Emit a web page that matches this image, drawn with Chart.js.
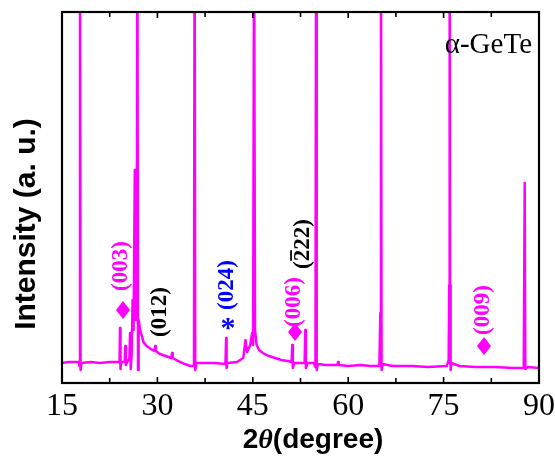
<!DOCTYPE html>
<html><head><meta charset="utf-8">
<script src="https://cdn.jsdelivr.net/npm/chart.js@4"></script>
<style>html,body{margin:0;padding:0;background:#fff}</style>
</head><body>
<canvas id="c" width="555" height="458"></canvas>
<script>
// XRD trace (2θ in degrees, intensity in arbitrary units)
const twoTheta = [
  15.0, 16.0, 17.0, 17.65, 17.75, 17.83, 17.92, 18.05, 19.5, 21.0, 22.5, 23.9,
  24.05, 24.12, 24.2, 24.3, 24.85, 24.95, 25.05, 25.25, 25.45, 25.6, 25.7, 25.8,
  25.95, 26.1, 26.25, 26.45, 26.6, 26.75, 26.85, 26.95, 27.05, 27.3, 27.8, 28.3,
  29.0, 29.6, 29.65, 29.75, 30.4, 31.3, 32.2, 32.3, 32.4, 33.3, 34.3, 35.2,
  35.75, 35.85, 35.95, 36.1, 37.5, 39.0, 40.7, 40.8, 40.88, 41.0, 42.5, 43.5,
  43.85, 44.1, 44.6, 44.9, 45.05, 45.2, 45.35, 45.6, 46.0, 46.6, 47.5, 48.5,
  49.5, 50.5, 51.1, 51.2, 51.3, 51.5, 52.5, 53.15, 53.25, 53.35, 53.6, 54.6,
  54.85, 54.95, 55.05, 55.2, 56.5, 58.3, 58.4, 58.5, 60.0, 62.0, 63.5, 64.9,
  65.05, 65.15, 65.25, 65.4, 67.0, 70.0, 72.5, 75.5, 75.8, 75.88, 75.95, 76.02,
  76.1, 76.2, 77.5, 80.0, 83.0, 86.0, 87.6, 87.75, 87.85, 88.2, 90.0
];
const intensity = [
  191, 222, 222, 222, 99, 14000, -25, 191, 222, 191, 222, 222,
  222, 1271, 6, 222, 222, 716, 130, 222, 284, 346, 1117, 6,
  438, 2136, 1210, 6147, 1521, 1521, 14000, -25, 1521, 1210, 839, 716,
  623, 562, 716, 562, 469, 407, 346, 500, 346, 253, 160, 99,
  99, 14000, -25, 191, 191, 191, 160, 963, 37, 191, 222, 346,
  901, 531, 747, 1117, 747, 14000, 1210, 747, 593, 500, 407, 346,
  284, 253, 222, 747, 37, 191, 191, 191, 1210, 37, 191, 191,
  68, 14000, -25, 160, 130, 130, 222, 130, 99, 130, 99, 99,
  1734, 14000, -25, 160, 99, 99, 68, 99, 284, 2592, 14000, 2592,
  -25, 191, 99, 68, 68, 37, 37, 5746, 6, 68, 37
];
const xTickStep = 7.5;       // major ticks every 15°, minor every 7.5°
const xTickLabels = ['15', '30', '45', '60', '75', '90'];
const yTickStep = 500;

// Peak annotations
const annText  = ['(003)', '(012)', '(024)', '(006)', '(222)', '(009)'];
const annX     = [24.28, 30.41, 40.94, 51.48, 52.9, 81.2];
const annY     = [3185, 1765, 2598, 2074, 3864, 1827];
const annColor = ['#ff00ff', '#000000', '#0000ff', '#ff00ff', '#000000', '#ff00ff'];
const diamondX = [24.59, 51.64, 81.35];
const diamondY = [1827, 1148, 716];
const starX = [41.1];
const starY = [1426];
const phaseLabel = 'α-GeTe';

const decor = {
  id: 'decor',
  afterDraw(chart) {
    const ctx = chart.ctx, a = chart.chartArea;
    const xs = chart.scales.x, ys = chart.scales.y;
    ctx.save();
    // frame
    ctx.strokeStyle = '#000'; ctx.lineWidth = 2.2;
    ctx.strokeRect(a.left, a.top, a.right - a.left, a.bottom - a.top);
    // x ticks (inward, bottom & top)
    ctx.lineWidth = 1.6;
    xs.ticks.forEach(t => {
      const px = xs.getPixelForValue(t.value);
      const major = Math.abs(t.value % 15) < 1e-6;
      const len = major ? 6 : 5;
      ctx.beginPath();
      ctx.moveTo(px, a.bottom); ctx.lineTo(px, a.bottom - len);
      ctx.moveTo(px, a.top); ctx.lineTo(px, a.top + len);
      ctx.stroke();
    });
    // y ticks (inward, left & right)
    ys.ticks.forEach(t => {
      if (Math.abs(t.value % yTickStep) > 1e-6) return;
      const py = ys.getPixelForValue(t.value);
      ctx.beginPath();
      ctx.moveTo(a.left, py); ctx.lineTo(a.left + 3, py);
      ctx.moveTo(a.right, py); ctx.lineTo(a.right - 3, py);
      ctx.stroke();
    });
    // rotated peak labels
    ctx.font = 'bold 23px "Liberation Serif"';
    annText.forEach((t, i) => {
      const px = xs.getPixelForValue(annX[i]), py = ys.getPixelForValue(annY[i]);
      ctx.save();
      ctx.translate(px, py); ctx.rotate(-Math.PI / 2);
      ctx.fillStyle = annColor[i];
      ctx.textAlign = 'center'; ctx.textBaseline = 'middle';
      ctx.fillText(t, 0, 0);
      if (t === '(222)') { // bar over the first 2
        const W = ctx.measureText(t).width;
        const x0 = -W / 2 + ctx.measureText('(').width;
        const w2 = ctx.measureText('2').width;
        ctx.strokeStyle = annColor[i]; ctx.lineWidth = 1.8;
        ctx.beginPath(); ctx.moveTo(x0 + 0.5, -12); ctx.lineTo(x0 + w2 - 0.5, -12); ctx.stroke();
      }
      ctx.restore();
    });
    // diamonds
    ctx.fillStyle = '#ff00ff';
    diamondX.forEach((dx, i) => {
      const px = xs.getPixelForValue(dx), py = ys.getPixelForValue(diamondY[i]);
      ctx.beginPath();
      ctx.moveTo(px, py - 9); ctx.lineTo(px + 7, py); ctx.lineTo(px, py + 9); ctx.lineTo(px - 7, py);
      ctx.closePath(); ctx.fill();
    });
    // star
    ctx.fillStyle = '#0000ff';
    ctx.font = 'bold 30px "Liberation Serif"';
    ctx.textAlign = 'center'; ctx.textBaseline = 'alphabetic';
    starX.forEach((sx, i) => {
      const px = xs.getPixelForValue(sx), py = ys.getPixelForValue(starY[i]);
      ctx.fillText('*', px, py + 14);
    });
    // phase label
    ctx.fillStyle = '#000';
    ctx.font = '29px "Liberation Serif"';
    ctx.textAlign = 'right'; ctx.textBaseline = 'alphabetic';
    ctx.fillText(phaseLabel, a.right - 7, 53);
    // x axis title: 2θ(degree)
    const parts = [
      ['2', 'bold 28px "Liberation Sans"'],
      ['θ', 'bold italic 28px "Liberation Serif"'],
      ['(degree)', 'bold 28px "Liberation Sans"']
    ];
    let total = 0;
    parts.forEach(p => { ctx.font = p[1]; total += ctx.measureText(p[0]).width; });
    let cx = 313 - total / 2;
    ctx.textAlign = 'left';
    parts.forEach(p => { ctx.font = p[1]; ctx.fillText(p[0], cx, 448); cx += ctx.measureText(p[0]).width; });
    // y axis title
    ctx.save();
    ctx.translate(35, 224);
    ctx.rotate(-Math.PI / 2);
    ctx.font = 'bold 30px "Liberation Sans"';
    ctx.textAlign = 'center'; ctx.textBaseline = 'alphabetic';
    ctx.fillText('Intensity (a. u.)', 0, 0);
    ctx.restore();
    ctx.restore();
  }
};

new Chart(document.getElementById('c'), {
  type: 'line',
  data: {
    datasets: [{
      data: twoTheta.map((x, i) => ({ x: x, y: intensity[i] })),
      borderColor: '#ff00ff',
      borderWidth: 2.5,
      borderJoinStyle: 'round',
      pointRadius: 0,
      tension: 0,
      fill: false
    }]
  },
  options: {
    responsive: false,
    animation: false,
    events: [],
    layout: { padding: { left: 0, right: 0, top: 12, bottom: 0 } },
    plugins: { legend: { display: false }, tooltip: { enabled: false } },
    scales: {
      x: {
        type: 'linear', position: 'bottom', min: 15, max: 90,
        grid: { display: false, drawTicks: false },
        border: { display: false },
        ticks: {
          stepSize: xTickStep, autoSkip: false, maxRotation: 0, padding: 4,
          color: '#000', font: { family: '"Liberation Serif"', size: 32 },
          callback: v => {
            const s = String(v);
            return xTickLabels.includes(s) ? s : '';
          }
        },
        afterFit: s => { s.height = 75; s.paddingLeft = 0; s.paddingRight = 0; }
      },
      y: {
        type: 'linear', position: 'left', min: -425, max: 11025,
        grid: { display: false, drawTicks: false },
        border: { display: false },
        ticks: { display: false, stepSize: yTickStep },
        afterFit: s => { s.width = 62; }
      },
      y2: {
        type: 'linear', position: 'right', display: true,
        grid: { display: false, drawTicks: false },
        border: { display: false },
        ticks: { display: false },
        afterFit: s => { s.width = 16; }
      }
    }
  },
  plugins: [decor]
});
</script>
</body></html>
